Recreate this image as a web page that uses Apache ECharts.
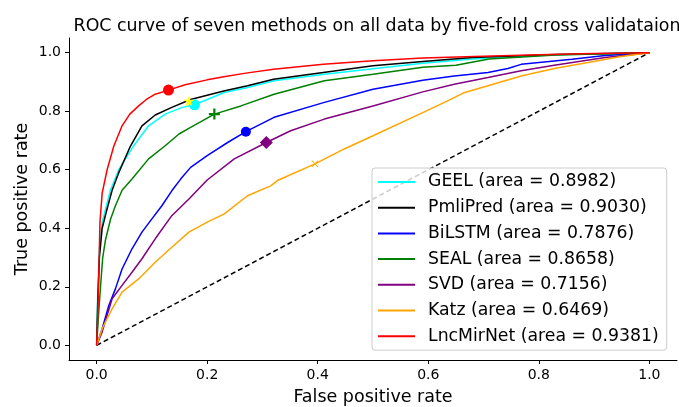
<!DOCTYPE html>
<html>
<head>
<meta charset="utf-8">
<script src="https://cdn.jsdelivr.net/npm/echarts@6/dist/echarts.min.js"></script>
<style>
  html, body { margin: 0; padding: 0; background: #fff; }
  #chart { width: 679px; height: 407px; }
</style>
</head>
<body>
<div id="chart"></div>
<script>
const methods = ['GEEL', 'PmliPred', 'BiLSTM', 'SEAL', 'SVD', 'Katz', 'LncMirNet'];
const aucs = ['0.8982', '0.9030', '0.7876', '0.8658', '0.7156', '0.6469', '0.9381'];
const colors = ['#00ffff', '#000000', '#0000ff', '#008000', '#800080', '#ffa500', '#ff0000'];
const tickValues = [0, 0.2, 0.4, 0.6, 0.8, 1.0];

// [fpr, tpr] pairs
const geel = [[0,0],[0.002,0.18],[0.005,0.33],[0.01,0.42],[0.018,0.48],[0.025,0.53],[0.04,0.6],[0.067,0.682],[0.094,0.75],[0.124,0.79],[0.155,0.813],[0.177,0.822],[0.231,0.864],[0.273,0.881],[0.321,0.904],[0.412,0.926],[0.5,0.945],[0.59,0.964],[0.68,0.978],[0.83,0.993],[1,1]];
const pmlipred = [[0,0],[0.002,0.15],[0.005,0.3],[0.01,0.4],[0.018,0.46],[0.028,0.53],[0.04,0.59],[0.061,0.68],[0.082,0.75],[0.106,0.787],[0.136,0.813],[0.17,0.84],[0.23,0.869],[0.273,0.887],[0.32,0.909],[0.41,0.932],[0.5,0.955],[0.59,0.97],[0.68,0.983],[0.83,0.994],[1,1]];
const bilstm = [[0,0],[0.01,0.057],[0.022,0.136],[0.034,0.193],[0.046,0.261],[0.064,0.33],[0.082,0.387],[0.1,0.432],[0.118,0.477],[0.136,0.528],[0.152,0.568],[0.17,0.608],[0.2,0.648],[0.237,0.693],[0.27,0.73],[0.321,0.779],[0.412,0.83],[0.5,0.875],[0.59,0.906],[0.647,0.92],[0.708,0.932],[0.744,0.946],[0.768,0.96],[0.86,0.977],[0.92,0.99],[1,1]];
const seal = [[0,0],[0.004,0.12],[0.007,0.2],[0.011,0.3],[0.016,0.36],[0.025,0.43],[0.034,0.477],[0.046,0.53],[0.064,0.568],[0.094,0.637],[0.124,0.682],[0.149,0.722],[0.17,0.745],[0.213,0.79],[0.261,0.818],[0.321,0.858],[0.412,0.904],[0.5,0.926],[0.59,0.95],[0.65,0.957],[0.71,0.978],[0.83,0.992],[1,1]];
const svd = [[0,0],[0.01,0.046],[0.028,0.159],[0.046,0.205],[0.064,0.25],[0.082,0.296],[0.106,0.364],[0.136,0.443],[0.167,0.5],[0.2,0.565],[0.249,0.637],[0.307,0.693],[0.351,0.733],[0.412,0.773],[0.5,0.818],[0.59,0.866],[0.647,0.892],[0.708,0.915],[0.768,0.938],[0.828,0.957],[0.92,0.983],[1,1]];
const katz = [[0,0],[0.01,0.057],[0.028,0.125],[0.046,0.182],[0.076,0.227],[0.106,0.284],[0.136,0.335],[0.167,0.387],[0.2,0.421],[0.231,0.449],[0.273,0.511],[0.315,0.545],[0.327,0.563],[0.395,0.62],[0.448,0.671],[0.5,0.716],[0.59,0.795],[0.635,0.835],[0.666,0.864],[0.708,0.887],[0.768,0.92],[0.828,0.946],[0.889,0.966],[0.949,0.987],[1,1]];
const lncmirnet = [[0,0],[0.002,0.1],[0.004,0.25],[0.006,0.42],[0.01,0.52],[0.019,0.6],[0.031,0.68],[0.046,0.75],[0.06,0.79],[0.076,0.818],[0.09,0.84],[0.106,0.858],[0.13,0.872],[0.16,0.89],[0.2,0.907],[0.23,0.918],[0.27,0.93],[0.32,0.943],[0.41,0.96],[0.5,0.972],[0.59,0.982],[0.7,0.988],[0.8,0.993],[0.9,0.997],[1,1]];
const curves = [geel, pmlipred, bilstm, seal, svd, katz, lncmirnet];
const diagonal = [[0,0],[1,1]];

// operating points marked on each curve
const markerPoints = [[0.177,0.822],[0.167,0.835],[0.27,0.73],[0.213,0.79],[0.307,0.693],[0.395,0.62],[0.13,0.872]];
const markerColors = ['#00ffff', '#ffff00', '#0000ff', '#008000', '#800080', '#ffa500', '#ff0000'];

const star = 'path://M50,0L61,35L98,35L68,57L79,91L50,70L21,91L32,57L2,35L39,35Z';
const plus = 'path://M4,0H6V4H10V6H6V10H4V6H0V4H4Z';
const thinPlus = 'path://M4.5,0H5.5V4.5H10V5.5H5.5V10H4.5V5.5H0V4.5H4.5Z';
const markerSymbols = ['circle', star, 'circle', plus, 'diamond', thinPlus, 'circle'];
const markerSizes = [11, 11, 10, 11, 13, 9, 11];
const markerRotate = [0, 0, 0, 0, 0, 45, 0];

const labels = methods.map((m, i) => m + ' (area = ' + aucs[i] + ')');
const font = 'DejaVu Sans';

const chart = echarts.init(document.getElementById('chart'));

const series = [{
  type: 'line',
  data: diagonal,
  showSymbol: false,
  silent: true,
  lineStyle: { color: '#000', width: 1.5, type: [5, 3] },
  z: 1,
}];

curves.forEach((c, i) => {
  series.push({
    name: labels[i],
    type: 'line',
    data: c,
    showSymbol: false,
    silent: true,
    itemStyle: { color: colors[i] },
    lineStyle: { color: colors[i], width: 1.5 },
    z: 2,
  });
});

markerPoints.forEach((p, i) => {
  series.push({
    type: 'scatter',
    data: [p],
    symbol: markerSymbols[i],
    symbolSize: markerSizes[i],
    symbolRotate: markerRotate[i],
    silent: true,
    itemStyle: { color: markerColors[i], opacity: 1 },
    z: 3,
  });
});

const axisCommon = {
  type: 'value',
  min: -0.05,
  max: 1.05,
  nameLocation: 'middle',
  nameMoveOverlap: false,
  nameTextStyle: { fontFamily: font, fontSize: 17.5, color: '#000' },
  axisLine: { show: true, onZero: false, lineStyle: { color: '#000', width: 1 } },
  axisTick: { show: true, length: 4, customValues: tickValues, lineStyle: { color: '#000' } },
  axisLabel: {
    customValues: tickValues,
    fontFamily: font,
    fontSize: 14,
    color: '#000',
    formatter: v => v.toFixed(1),
  },
  splitLine: { show: false },
};

chart.setOption({
  animation: false,
  backgroundColor: '#fff',
  title: {
    text: 'ROC curve of seven methods on all data by five-fold cross validataion',
    left: 372,
    top: 13,
    textAlign: 'center',
    textStyle: { fontFamily: font, fontSize: 17.4, fontWeight: 'normal', color: '#000' },
  },
  grid: { left: 69, right: 2, top: 38, bottom: 47, outerBoundsMode: 'none' },
  xAxis: Object.assign({}, axisCommon, { name: 'False positive rate', nameGap: 28 }),
  yAxis: Object.assign({}, axisCommon, { name: 'True positive rate', nameGap: 38 }),
  legend: {
    data: labels,
    orient: 'vertical',
    left: 372,
    top: 168,
    icon: 'rect',
    itemWidth: 37,
    itemHeight: 2,
    itemGap: 7.7,
    padding: [5, 8, 5, 6],
    backgroundColor: 'rgba(255,255,255,0.8)',
    borderColor: '#cccccc',
    borderWidth: 1,
    borderRadius: 3,
    selectedMode: false,
    textStyle: { fontFamily: font, fontSize: 17.3, lineHeight: 18, color: '#000', padding: [0, 0, 0, 8] },
  },
  series: series,
});
</script>
</body>
</html>
